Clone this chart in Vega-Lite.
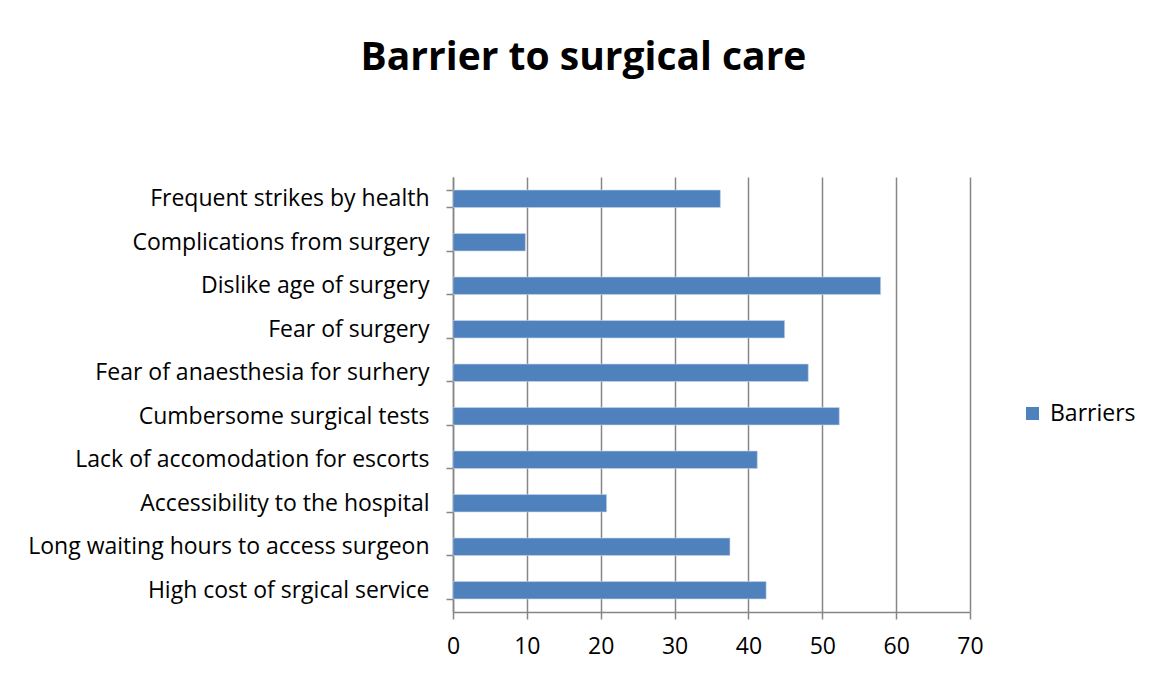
{
  "$schema": "https://vega.github.io/schema/vega-lite/v6.json",
  "width": 517,
  "height": 435,
  "autosize": {"type": "none"},
  "padding": {"left": 453, "top": 177, "right": 184, "bottom": 63},
  "background": "white",
  "title": {
    "text": "Barrier to surgical care",
    "font": "Open Sans",
    "fontSize": 39,
    "fontWeight": "bold",
    "color": "#000000",
    "anchor": "middle",
    "dx": -128,
    "offset": 88
  },
  "data": {
    "values": [
      {"barrier": "Frequent strikes by health", "value": 36.2, "series": "Barriers"},
      {"barrier": "Complications from surgery", "value": 9.8, "series": "Barriers"},
      {"barrier": "Dislike age of surgery", "value": 57.9, "series": "Barriers"},
      {"barrier": "Fear of surgery", "value": 44.9, "series": "Barriers"},
      {"barrier": "Fear of anaesthesia for surhery", "value": 48.1, "series": "Barriers"},
      {"barrier": "Cumbersome surgical tests", "value": 52.3, "series": "Barriers"},
      {"barrier": "Lack of accomodation for escorts", "value": 41.2, "series": "Barriers"},
      {"barrier": "Accessibility to the hospital", "value": 20.8, "series": "Barriers"},
      {"barrier": "Long waiting hours to access surgeon", "value": 37.5, "series": "Barriers"},
      {"barrier": "High cost of srgical service", "value": 42.4, "series": "Barriers"}
    ]
  },
  "mark": {"type": "bar", "stroke": "#c6d5ea", "strokeWidth": 0.6},
  "encoding": {
    "y": {
      "field": "barrier",
      "type": "nominal",
      "sort": null,
      "scale": {"paddingInner": 0.6, "paddingOuter": 0.3},
      "axis": {
        "title": null,
        "tickBand": "extent",
        "domainColor": "#868686",
        "domainWidth": 1.5,
        "tickColor": "#868686",
        "tickWidth": 1.5,
        "tickSize": 7,
        "labelFont": "Open Sans",
        "labelFontSize": 23,
        "labelColor": "#000000",
        "labelPadding": 17,
        "labelLimit": 500,
        "grid": false
      }
    },
    "x": {
      "field": "value",
      "type": "quantitative",
      "scale": {"domain": [0, 70], "nice": false},
      "axis": {
        "title": null,
        "values": [0, 10, 20, 30, 40, 50, 60, 70],
        "labelFlush": false,
        "grid": true,
        "gridColor": "#868686",
        "gridWidth": 1.5,
        "domainColor": "#868686",
        "domainWidth": 1.5,
        "tickColor": "#868686",
        "tickWidth": 1.5,
        "tickSize": 7,
        "labelFont": "Open Sans",
        "labelFontSize": 23,
        "labelColor": "#000000",
        "labelPadding": 16
      }
    },
    "color": {
      "field": "series",
      "type": "nominal",
      "scale": {"range": ["#4F81BD"]},
      "legend": {
        "title": null,
        "orient": "none",
        "legendX": 568,
        "legendY": 225,
        "symbolType": "square",
        "symbolSize": 170,
        "symbolStrokeWidth": 0,
        "labelFont": "Open Sans",
        "labelFontSize": 23,
        "labelColor": "#000000",
        "labelOffset": 6
      }
    }
  },
  "config": {"view": {"stroke": null}}
}
